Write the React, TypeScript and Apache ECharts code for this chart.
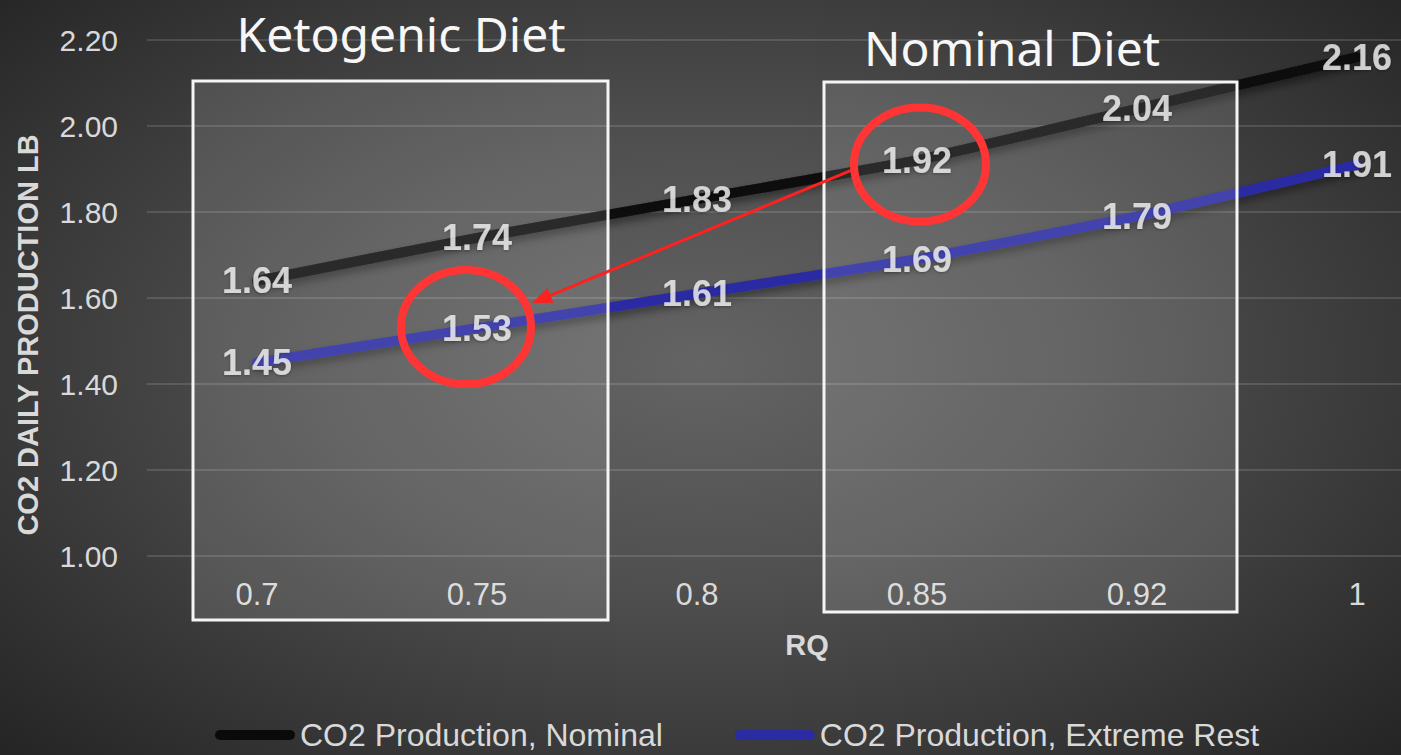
import React, { useEffect, useRef } from 'react';
import * as echarts from 'echarts';

const rqCategories = ['0.7', '0.75', '0.8', '0.85', '0.92', '1'];
const nominalValues = [1.64, 1.74, 1.83, 1.92, 2.04, 2.16];
const extremeRestValues = [1.45, 1.53, 1.61, 1.69, 1.79, 1.91];
const seriesNames = ['CO2 Production, Nominal', 'CO2 Production, Extreme Rest'];
const dietLabels = ['Ketogenic Diet', 'Nominal Diet'];
const yMin = 1.0;
const yMax = 2.2;
const yInterval = 0.2;
const yAxisTitle = 'CO2 DAILY PRODUCTION LB';
const xAxisTitle = 'RQ';
// highlighted points: [category, value]
const highlightFrom: [string, number] = ['0.85', 1.92];
const highlightTo: [string, number] = ['0.75', 1.53];

const FONT = '"Liberation Sans", Arial, sans-serif';

export default function App() {
  const ref = useRef<HTMLDivElement>(null);

  useEffect(() => {
    document.body.style.margin = '0';
    document.body.style.overflow = 'hidden';
    if (!ref.current) return;
    const chart = echarts.init(ref.current, undefined, { renderer: 'svg' });

    const labelStyle = {
      show: true,
      position: 'inside' as const,
      formatter: (p: any) => Number(p.value).toFixed(2),
      color: '#f4f4f4',
      fontSize: 36,
      fontWeight: 'bold' as const,
      fontFamily: FONT,
      textShadowColor: 'rgba(0,0,0,0.35)',
      textShadowBlur: 3,
      textShadowOffsetY: 1,
    };

    chart.setOption({
      animation: false,
      backgroundColor: 'transparent',
      grid: { left: 147, right: 0, top: 40, bottom: 199 },
      legend: {
        data: seriesNames,
        left: 210,
        top: 714,
        itemWidth: 80,
        itemHeight: 10,
        itemGap: 72,
        icon: 'path://M5,0 H75 A5,5 0 0 1 75,10 H5 A5,5 0 0 1 5,0 Z',
        textStyle: { color: '#d9d9d9', fontSize: 32, fontFamily: FONT, lineHeight: 32 },
      },
      xAxis: {
        type: 'category',
        data: rqCategories,
        boundaryGap: true,
        axisLine: { show: false },
        axisTick: { show: false },
        axisLabel: { color: '#d9d9d9', fontSize: 31, fontFamily: FONT, margin: 23 },
        name: xAxisTitle,
        nameLocation: 'middle',
        nameGap: 74,
        nameTextStyle: { color: '#d9d9d9', fontSize: 29, fontWeight: 'bold', fontFamily: FONT },
      },
      yAxis: {
        type: 'value',
        min: yMin,
        max: yMax,
        interval: yInterval,
        axisLine: { show: false },
        axisTick: { show: false },
        axisLabel: {
          color: '#d9d9d9',
          fontSize: 30,
          fontFamily: FONT,
          margin: 29,
          formatter: (v: number) => v.toFixed(2),
        },
        splitLine: { lineStyle: { color: 'rgba(255,255,255,0.13)', width: 2 } },
      },
      series: [
        {
          name: seriesNames[0],
          type: 'line',
          data: nominalValues,
          smooth: 0.1,
          showSymbol: false,
          z: 2,
          itemStyle: { color: '#0a0a0a' },
          lineStyle: {
            color: '#0a0a0a',
            width: 10,
            cap: 'round',
            shadowColor: 'rgba(0,0,0,0.45)',
            shadowBlur: 8,
            shadowOffsetY: 5,
          },
        },
        {
          name: seriesNames[1],
          type: 'line',
          data: extremeRestValues,
          smooth: 0.1,
          showSymbol: false,
          z: 2,
          itemStyle: { color: '#2b2ba3' },
          lineStyle: {
            color: '#2b2ba3',
            width: 10,
            cap: 'round',
            shadowColor: 'rgba(0,0,0,0.4)',
            shadowBlur: 8,
            shadowOffsetY: 5,
          },
        },
        {
          name: 'lbl-nominal',
          type: 'scatter',
          data: nominalValues,
          symbolSize: 1,
          z: 5,
          silent: true,
          itemStyle: { color: 'transparent' },
          label: labelStyle,
        },
        {
          name: 'lbl-extreme',
          type: 'scatter',
          data: extremeRestValues,
          symbolSize: 1,
          z: 5,
          silent: true,
          itemStyle: { color: 'transparent' },
          label: labelStyle,
        },
      ],
    });

    const c2 = chart.convertToPixel({ gridIndex: 0 }, highlightFrom as any) as number[];
    const c1 = chart.convertToPixel({ gridIndex: 0 }, highlightTo as any) as number[];
    const start = [c2[0] - 61, c2[1] + 8];
    const tip = [c1[0] + 55, c1[1] - 25];
    const dx = tip[0] - start[0];
    const dy = tip[1] - start[1];
    const len = Math.sqrt(dx * dx + dy * dy);
    const ux = dx / len;
    const uy = dy / len;
    const headLen = 20;
    const headHalf = 8;
    const base = [tip[0] - ux * headLen, tip[1] - uy * headLen];
    const nx = -uy;
    const ny = ux;

    chart.setOption({
      graphic: [
        {
          type: 'rect',
          z: 3,
          silent: true,
          shape: { x: 193, y: 81, width: 415, height: 539 },
          style: { fill: 'rgba(255,255,255,0.12)', stroke: '#f5f5f5', lineWidth: 3 },
        },
        {
          type: 'rect',
          z: 3,
          silent: true,
          shape: { x: 824, y: 82, width: 413, height: 530 },
          style: { fill: 'rgba(255,255,255,0.12)', stroke: '#f5f5f5', lineWidth: 3 },
        },
        {
          type: 'text',
          z: 10,
          x: 401,
          y: 33,
          style: {
            text: dietLabels[0],
            fill: '#f7f7f7',
            fontSize: 48,
            fontFamily: '"Noto Sans", "Open Sans", sans-serif',
            align: 'center',
            verticalAlign: 'middle',
          },
        },
        {
          type: 'text',
          z: 10,
          x: 1012,
          y: 47,
          style: {
            text: dietLabels[1],
            fill: '#f7f7f7',
            fontSize: 48,
            fontFamily: '"Noto Sans", "Open Sans", sans-serif',
            align: 'center',
            verticalAlign: 'middle',
          },
        },
        {
          type: 'text',
          z: 10,
          x: 28,
          y: 335,
          rotation: Math.PI / 2,
          style: {
            text: yAxisTitle,
            fill: '#d9d9d9',
            fontSize: 29,
            fontWeight: 'bold',
            fontFamily: FONT,
            align: 'center',
            verticalAlign: 'middle',
          },
        },
        {
          type: 'ellipse',
          z: 10,
          silent: true,
          shape: { cx: c2[0] + 3, cy: c2[1] + 4, rx: 66, ry: 57 },
          style: { fill: 'none', stroke: '#ff3535', lineWidth: 8 },
        },
        {
          type: 'ellipse',
          z: 10,
          silent: true,
          shape: { cx: c1[0] - 11, cy: c1[1] - 1, rx: 65, ry: 57 },
          style: { fill: 'none', stroke: '#ff3535', lineWidth: 8 },
        },
        {
          type: 'line',
          z: 9,
          silent: true,
          shape: { x1: start[0], y1: start[1], x2: base[0], y2: base[1] },
          style: { stroke: '#ff2020', lineWidth: 3 },
        },
        {
          type: 'polygon',
          z: 10,
          silent: true,
          shape: {
            points: [
              [tip[0], tip[1]],
              [base[0] + nx * headHalf, base[1] + ny * headHalf],
              [base[0] - nx * headHalf, base[1] - ny * headHalf],
            ],
          },
          style: { fill: '#ff2020' },
        },
      ],
    });

    return () => {
      chart.dispose();
    };
  }, []);

  return (
    <div
      style={{
        width: 1401,
        height: 755,
        overflow: 'hidden',
        position: 'relative',
        background:
          'radial-gradient(ellipse 70% 75% at 50% 48%, #646464 0%, #4f4f4f 40%, #363636 75%, #242424 100%)',
      }}
    >
      <div ref={ref} style={{ width: 1467, height: 755, position: 'absolute', left: 0, top: 0 }} />
    </div>
  );
}
